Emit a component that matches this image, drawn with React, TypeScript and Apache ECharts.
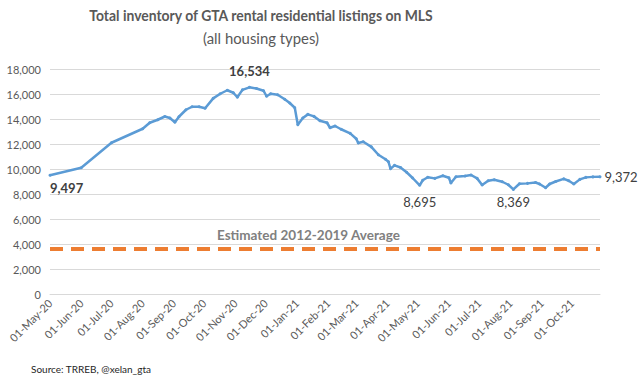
import React, { useEffect, useRef } from "react";
import * as echarts from "echarts";

const TITLE = "Total inventory of GTA rental residential listings on MLS";
const SUBTITLE = "(all housing types)";
const SOURCE = "Source: TRREB, @xelan_gta";
const AVG_LABEL = "Estimated 2012-2019 Average";

const dates = [
  "2020-05-01", "2020-06-01", "2020-07-01", "2020-08-01", "2020-08-08", "2020-08-16",
  "2020-08-23", "2020-08-28", "2020-09-02", "2020-09-06", "2020-09-13", "2020-09-19",
  "2020-09-26", "2020-10-02", "2020-10-10", "2020-10-17", "2020-10-24", "2020-10-30",
  "2020-11-03", "2020-11-08", "2020-11-15", "2020-11-22", "2020-11-29", "2020-12-02",
  "2020-12-06", "2020-12-13", "2020-12-20", "2020-12-25", "2020-12-30", "2021-01-02",
  "2021-01-07", "2021-01-12", "2021-01-18", "2021-01-24", "2021-01-31", "2021-02-03",
  "2021-02-08", "2021-02-14", "2021-02-23", "2021-03-01", "2021-03-03", "2021-03-08",
  "2021-03-16", "2021-03-23", "2021-03-30", "2021-04-02", "2021-04-04", "2021-04-08",
  "2021-04-14", "2021-04-20", "2021-04-26", "2021-05-03", "2021-05-06", "2021-05-11",
  "2021-05-18", "2021-05-26", "2021-06-01", "2021-06-03", "2021-06-08", "2021-06-17",
  "2021-06-23", "2021-06-29", "2021-07-04", "2021-07-10", "2021-07-16", "2021-07-24",
  "2021-07-30", "2021-08-04", "2021-08-10", "2021-08-18", "2021-08-26", "2021-08-30",
  "2021-09-05", "2021-09-09", "2021-09-15", "2021-09-23", "2021-09-28", "2021-10-03",
  "2021-10-09", "2021-10-15", "2021-10-22", "2021-10-29",
];

const inventory = [
  9497, 10100, 12100, 13220, 13700, 13940,
  14200, 14080, 13740, 14180, 14740, 14980,
  14980, 14860, 15650, 16020, 16300, 16100,
  15740, 16330, 16534, 16440, 16260, 15820,
  16020, 15940, 15580, 15280, 14900, 13540,
  14080, 14370, 14210, 13860, 13700, 13300,
  13440, 13180, 12850, 12420, 12080, 12180,
  11770, 11140, 10780, 10580, 10020, 10290,
  10120, 9740, 9280, 8695, 9100, 9340,
  9250, 9460, 9300, 8880, 9380, 9440,
  9520, 9250, 8720, 9060, 9140, 8980,
  8740, 8369, 8820, 8850, 8920, 8800,
  8500, 8800, 9000, 9210, 9060, 8800,
  9170, 9330, 9370, 9372,
];

const averageValue = 3600;
const yTicks = [0, 2000, 4000, 6000, 8000, 10000, 12000, 14000, 16000, 18000];

// Which points carry a data label (by date)
const labelledDates = ["2020-05-01", "2020-11-15", "2021-05-03", "2021-08-04", "2021-10-29"];

const FONT = "Lato, 'Open Sans', sans-serif";

export default function App() {
  const ref = useRef<HTMLDivElement>(null);

  useEffect(() => {
    document.body.style.margin = "0";
    if (!ref.current) return;
    const chart = echarts.init(ref.current, undefined, { renderer: "svg" });

    const labelStyles: Record<string, any> = {
      "2020-05-01": { position: "bottom", distance: 5, fontWeight: "bold", align: "left", offset: [3, 0] },
      "2020-11-15": { position: "top", distance: 8, fontWeight: "bold", align: "center" },
      "2021-05-03": { position: "bottom", distance: 9, fontWeight: "normal", align: "center", offset: [-4, 0] },
      "2021-08-04": { position: "bottom", distance: 5, fontWeight: "normal", align: "center", offset: [2, 0] },
      "2021-10-29": { position: "right", distance: 3, fontWeight: "normal", align: "left", offset: [0, -5] },
    };

    const lineData = dates.map((d, i) => {
      const v = inventory[i];
      if (labelledDates.includes(d)) {
        const ls = labelStyles[d];
        return {
          value: [d, v],
          label: {
            show: true,
            formatter: v.toLocaleString("en-US"),
            color: "#404040",
            fontSize: 13,
            fontFamily: FONT,
            ...ls,
          },
        };
      }
      return { value: [d, v] };
    });

    const option: any = {
      animation: false,
      backgroundColor: "#ffffff",
      grid: { left: 50, right: 44, top: 69, bottom: 83, containLabel: false },
      xAxis: {
        type: "time",
        min: dates[0],
        max: dates[dates.length - 1],
        splitNumber: 18,
        axisLine: { show: true, lineStyle: { color: "#D9D9D9", width: 1 } },
        axisTick: { show: false },
        splitLine: { show: false },
        axisLabel: {
          rotate: 45,
          formatter: "{dd}-{MMM}-{yy}",
          color: "#595959",
          fontSize: 11,
          fontFamily: FONT,
          margin: 7,
          hideOverlap: false,
          showMinLabel: true,
          showMaxLabel: false,
        },
      },
      yAxis: {
        type: "value",
        min: yTicks[0],
        max: yTicks[yTicks.length - 1],
        interval: 2000,
        axisLine: { show: false },
        axisTick: { show: false },
        splitLine: { show: true, lineStyle: { color: "#D9D9D9", width: 1 } },
        axisLabel: {
          color: "#595959",
          fontSize: 11,
          fontFamily: FONT,
          margin: 9,
          formatter: (v: number) => v.toLocaleString("en-US"),
        },
      },
      series: [
        {
          type: "line",
          data: lineData,
          showSymbol: true,
          symbol: "circle",
          symbolSize: 3,
          itemStyle: { color: "#5B9BD5" },
          lineStyle: { color: "#5B9BD5", width: 2.5 },
          labelLayout: { hideOverlap: false },
          z: 3,
        },
        {
          type: "line",
          data: [
            [dates[0], averageValue],
            [dates[dates.length - 1], averageValue],
          ],
          showSymbol: false,
          symbol: "none",
          lineStyle: { color: "#ED7D31", width: 4, type: [13, 8] },
          z: 2,
        },
      ],
      graphic: [
        {
          type: "text",
          x: 261,
          y: 15,
          scaleX: 0.93,
          style: {
            text: TITLE,
            fill: "#595959",
            font: `bold 15px ${FONT}`,
            textAlign: "center",
            textVerticalAlign: "middle",
          },
        },
        {
          type: "text",
          x: 261,
          y: 38,
          scaleX: 0.93,
          style: {
            text: SUBTITLE,
            fill: "#595959",
            font: `16px ${FONT}`,
            textAlign: "center",
            textVerticalAlign: "middle",
          },
        },
        {
          type: "text",
          x: 217,
          y: 235,
          style: {
            text: AVG_LABEL,
            fill: "#808080",
            font: `bold 13.5px ${FONT}`,
            textAlign: "left",
            textVerticalAlign: "middle",
          },
        },
        {
          type: "text",
          x: 31,
          y: 369,
          style: {
            text: SOURCE,
            fill: "#262626",
            font: `10px ${FONT}`,
            textAlign: "left",
            textVerticalAlign: "middle",
          },
        },
      ],
    };

    chart.setOption(option);
    return () => chart.dispose();
  }, []);

  return <div ref={ref} style={{ width: 644, height: 377 }} />;
}
